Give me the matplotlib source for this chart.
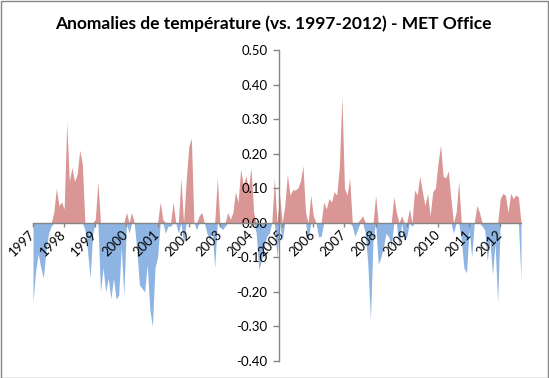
"""Monthly temperature anomalies vs. the 1997-2012 mean (MET Office), Excel-style area chart."""

import matplotlib

matplotlib.use("Agg")
import matplotlib.pyplot as plt
import numpy as np
from matplotlib.patches import Rectangle

# Monthly anomalies (°C), one list per year.
a1997 = [-0.23, -0.14, -0.09, -0.13, -0.16, -0.08, -0.03, -0.01, 0.03, 0.10, 0.05, 0.06]
a1998 = [0.04, 0.29, 0.12, 0.16, 0.12, 0.14, 0.21, 0.17, -0.02, -0.08, -0.16, -0.03]
a1999 = [0.01, 0.12, -0.20, -0.13, -0.20, -0.16, -0.22, -0.16, -0.22, -0.21, -0.07, -0.21]
a2000 = [0.03, -0.03, 0.03, 0.00, -0.08, -0.18, -0.19, -0.20, -0.12, -0.25, -0.30, -0.13]
a2001 = [-0.10, 0.06, 0.01, -0.03, -0.01, -0.01, 0.06, 0.00, -0.03, 0.13, -0.06, 0.12]
a2002 = [0.22, 0.245, 0.00, -0.02, 0.02, 0.03, 0.00, -0.03, -0.05, -0.02, -0.13, 0.13]
a2003 = [-0.01, -0.02, -0.01, 0.03, 0.01, 0.03, 0.09, 0.06, 0.155, 0.11, 0.135, 0.10]
a2004 = [0.16, 0.03, -0.03, -0.135, -0.11, -0.07, -0.04, -0.03, 0.00, 0.13, -0.10, 0.08]
a2005 = [-0.05, 0.05, 0.14, 0.08, 0.095, 0.095, 0.10, 0.12, 0.165, 0.03, -0.05, 0.08]
a2006 = [0.02, 0.00, -0.04, -0.04, 0.06, 0.04, 0.07, 0.06, 0.09, 0.08, 0.16, 0.365]
a2007 = [0.10, 0.08, 0.13, -0.01, -0.04, -0.02, 0.01, 0.02, -0.03, -0.12, -0.28, -0.05]
a2008 = [0.08, -0.12, -0.10, -0.07, -0.03, -0.04, -0.07, 0.075, 0.03, -0.07, 0.02, -0.05]
a2009 = [-0.04, 0.04, -0.01, 0.095, 0.08, 0.135, 0.09, 0.05, 0.085, 0.02, 0.09, 0.10]
a2010 = [0.17, 0.225, 0.135, 0.13, 0.15, 0.07, -0.03, 0.03, 0.12, -0.05, -0.13, -0.145]
a2011 = [-0.02, -0.10, 0.00, 0.05, 0.03, -0.01, -0.02, -0.11, -0.05, -0.15, -0.06, -0.23]
a2012 = [0.07, 0.085, 0.08, 0.03, 0.085, 0.07, 0.08, 0.075, -0.165]  # Jan-Sep

years = list(range(1997, 2013))
y_ticks = [0.50, 0.40, 0.30, 0.20, 0.10, 0.00, -0.10, -0.20, -0.30, -0.40]
title = "Anomalies de température (vs. 1997-2012) - MET Office"

RED = "#d99694"
BLUE = "#8eb4e3"
AXIS = "#868686"
FONT = "Lato"

anom = np.array(a1997 + a1998 + a1999 + a2000 + a2001 + a2002 + a2003 + a2004
                + a2005 + a2006 + a2007 + a2008 + a2009 + a2010 + a2011 + a2012)
months = np.arange(len(anom))

fig = plt.figure(figsize=(5.49, 3.78), dpi=100)
ax = fig.add_axes([33 / 549, 17 / 378, 488 / 549, 311 / 378])

# Excel-style: positive and negative parts drawn as two separate area series
ax.fill_between(months, 0, np.maximum(anom, 0), color=RED, lw=0)
ax.fill_between(months, 0, np.minimum(anom, 0), color=BLUE, lw=0)

ax.set_xlim(0, len(anom) - 1)
ax.set_ylim(-0.4, 0.5)

for side in ("top", "right"):
    ax.spines[side].set_visible(False)
ax.spines["left"].set_position(("data", 94.8))
ax.spines["bottom"].set_position(("data", 0))
for side in ("left", "bottom"):
    ax.spines[side].set_color(AXIS)
    ax.spines[side].set_linewidth(1.0)

ax.set_yticks(y_ticks)
ax.set_yticklabels([f"{v:.2f}" for v in y_ticks], fontfamily=FONT, fontsize=9.5)
ax.tick_params(axis="y", direction="out", length=4.5, width=1, color=AXIS, pad=4)

ax.set_xticks(months[::12][: len(years)])
ax.set_xticklabels([str(y) for y in years], fontfamily=FONT, fontsize=9.5,
                   rotation=45, ha="right", va="center", rotation_mode="anchor")
ax.tick_params(axis="x", direction="out", length=3, width=1, color=AXIS, pad=4)

fig.suptitle(title, x=0.497, y=0.958, fontfamily=FONT, fontsize=12.5, fontweight="bold")

# chart-area border
fig.patches.append(Rectangle((0.001, 0.001), 0.997, 0.997, transform=fig.transFigure,
                             fill=False, edgecolor=AXIS, lw=1))

fig.savefig("out.png", dpi=100)
